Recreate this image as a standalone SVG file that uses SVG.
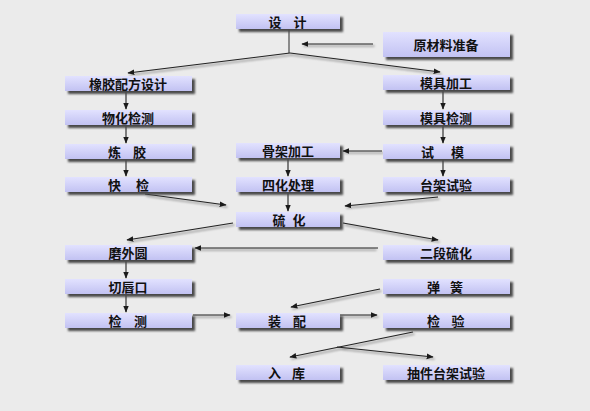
<svg xmlns="http://www.w3.org/2000/svg" width="590" height="411" viewBox="0 0 590 411">
<defs>
<linearGradient id="g" x1="0" y1="0" x2="0" y2="1">
<stop offset="0" stop-color="#e2e2ff"/>
<stop offset="1" stop-color="#c2c2f2"/>
</linearGradient>
<filter id="sh" x="-10%" y="-50%" width="120%" height="200%">
<feGaussianBlur stdDeviation="1.1"/>
</filter>
<filter id="lsh" x="-10%" y="-50%" width="120%" height="200%">
<feGaussianBlur stdDeviation="1"/>
</filter>
<marker id="ah" viewBox="0 0 10 10" refX="9" refY="5" markerWidth="7" markerHeight="7" orient="auto" markerUnits="userSpaceOnUse">
<path d="M0,1 L10,5 L0,9 Z" fill="#1a1a1a"/>
</marker>
</defs>
<style>
.s{fill:#4a4a4a;filter:url(#sh)}
.b{fill:url(#g)}
.t{font-family:"Noto Sans CJK SC","Noto Sans",sans-serif;font-size:13px;font-weight:bold;fill:#111;text-anchor:middle}
.c{stroke:#222;stroke-width:1.1;fill:none;marker-end:url(#ah)}
.cs{stroke:#999;stroke-width:1.5;fill:none;filter:url(#lsh)}
</style>
<rect width="590" height="411" fill="#ebebeb"/>

<g id="connectors-shadow" transform="translate(1.5,2)">
<path class="cs" d="M290,53 L128,73 M290,53 L440,72 M373,44 L302,44 M382,151 L343,151 M438,197 L345,206 M145,194 L226,205 M343,223 L438,240 M375,248 L195,248 M233,223 L127,240 M193,315 L230,315 M380,289 L291,307 M339,315 L377,315 M413,332 L290,357 M337,347 L433,357"/>
</g>

<g id="connectors">
<line x1="289" y1="29" x2="289" y2="53" stroke="#8a8a8a" stroke-width="2"/>
<line class="c" x1="290" y1="53" x2="128" y2="73"/>
<line class="c" x1="290" y1="53" x2="440" y2="72"/>
<line class="c" x1="373" y1="44" x2="302" y2="44"/>
<line class="c" x1="126" y1="91" x2="126" y2="109"/>
<line class="c" x1="126" y1="125" x2="126" y2="143"/>
<line class="c" x1="126" y1="159" x2="126" y2="176"/>
<line class="c" x1="443" y1="90" x2="443" y2="109"/>
<line class="c" x1="443" y1="125" x2="443" y2="143"/>
<line class="c" x1="443" y1="159" x2="443" y2="176"/>
<line class="c" x1="382" y1="151" x2="343" y2="151"/>
<line class="c" x1="288" y1="158" x2="288" y2="176"/>
<line class="c" x1="288" y1="192" x2="288" y2="211"/>
<line class="c" x1="438" y1="197" x2="345" y2="206"/>
<line class="c" x1="145" y1="194" x2="226" y2="205"/>
<line class="c" x1="343" y1="223" x2="438" y2="240"/>
<line class="c" x1="378" y1="248" x2="195" y2="248"/>
<line class="c" x1="233" y1="223" x2="127" y2="240"/>
<line class="c" x1="126" y1="260" x2="126" y2="278"/>
<line class="c" x1="126" y1="294" x2="126" y2="312"/>
<line class="c" x1="193" y1="315" x2="230" y2="315"/>
<line class="c" x1="380" y1="289" x2="291" y2="307"/>
<line class="c" x1="339" y1="315" x2="377" y2="315"/>
<line class="c" x1="413" y1="332" x2="290" y2="357"/>
<line class="c" x1="337" y1="347" x2="433" y2="357"/>
</g>

<g id="n-design"><rect class="s" x="239" y="17" width="104" height="15"/><rect class="b" x="236" y="14" width="104" height="15"/><text class="t" y="26.5"><tspan x="275">设</tspan><tspan x="300">计</tspan></text></g>
<g id="n-material"><rect class="s" x="386" y="35" width="127" height="25"/><rect class="b" x="383" y="32" width="127" height="25"/><text class="t" x="446" y="49.5">原材料准备</text></g>

<g id="n-formula"><rect class="s" x="68" y="79" width="127" height="15"/><rect class="b" x="65" y="76" width="127" height="15"/><text class="t" x="128" y="88.5">橡胶配方设计</text></g>
<g id="n-physchem"><rect class="s" x="68" y="113" width="127" height="15"/><rect class="b" x="65" y="110" width="127" height="15"/><text class="t" x="128" y="122.5">物化检测</text></g>
<g id="n-mixing"><rect class="s" x="68" y="147" width="127" height="15"/><rect class="b" x="65" y="144" width="127" height="15"/><text class="t" y="156.5"><tspan x="114.5">炼</tspan><tspan x="139.5">胶</tspan></text></g>
<g id="n-quick"><rect class="s" x="68" y="180" width="127" height="15"/><rect class="b" x="65" y="177" width="127" height="15"/><text class="t" y="189.5"><tspan x="114.5">快</tspan><tspan x="142.5">检</tspan></text></g>
<g id="n-grind"><rect class="s" x="68" y="248" width="127" height="15"/><rect class="b" x="65" y="245" width="127" height="15"/><text class="t" x="128" y="257.5">磨外圆</text></g>
<g id="n-lipcut"><rect class="s" x="68" y="282" width="127" height="15"/><rect class="b" x="65" y="279" width="127" height="15"/><text class="t" x="128" y="291.5">切唇口</text></g>
<g id="n-inspect"><rect class="s" x="68" y="316" width="127" height="15"/><rect class="b" x="65" y="313" width="127" height="15"/><text class="t" y="325.5"><tspan x="115">检</tspan><tspan x="140.5">测</tspan></text></g>

<g id="n-skeleton"><rect class="s" x="239" y="146" width="104" height="15"/><rect class="b" x="236" y="143" width="104" height="15"/><text class="t" x="288" y="155.5">骨架加工</text></g>
<g id="n-treat"><rect class="s" x="239" y="180" width="104" height="15"/><rect class="b" x="236" y="177" width="104" height="15"/><text class="t" x="288" y="189.5">四化处理</text></g>
<g id="n-vulcan"><rect class="s" x="239" y="215" width="104" height="15"/><rect class="b" x="236" y="212" width="104" height="15"/><text class="t" y="224.5"><tspan x="279">硫</tspan><tspan x="299">化</tspan></text></g>
<g id="n-assembly"><rect class="s" x="239" y="316" width="104" height="15"/><rect class="b" x="236" y="313" width="104" height="15"/><text class="t" y="325.5"><tspan x="274.5">装</tspan><tspan x="299.5">配</tspan></text></g>
<g id="n-storage"><rect class="s" x="239" y="368" width="104" height="15"/><rect class="b" x="236" y="365" width="104" height="15"/><text class="t" y="377.5"><tspan x="274.5">入</tspan><tspan x="298.5">库</tspan></text></g>

<g id="n-mold"><rect class="s" x="386" y="78" width="127" height="15"/><rect class="b" x="383" y="75" width="127" height="15"/><text class="t" x="446" y="87.5">模具加工</text></g>
<g id="n-moldcheck"><rect class="s" x="386" y="113" width="127" height="15"/><rect class="b" x="383" y="110" width="127" height="15"/><text class="t" x="446" y="122.5">模具检测</text></g>
<g id="n-trial"><rect class="s" x="386" y="147" width="127" height="15"/><rect class="b" x="383" y="144" width="127" height="15"/><text class="t" y="156.5"><tspan x="427.5">试</tspan><tspan x="457.5">模</tspan></text></g>
<g id="n-bench"><rect class="s" x="386" y="180" width="127" height="15"/><rect class="b" x="383" y="177" width="127" height="15"/><text class="t" x="446" y="189.5">台架试验</text></g>
<g id="n-second"><rect class="s" x="386" y="248" width="127" height="15"/><rect class="b" x="383" y="245" width="127" height="15"/><text class="t" x="446" y="257.5">二段硫化</text></g>
<g id="n-spring"><rect class="s" x="386" y="282" width="127" height="15"/><rect class="b" x="383" y="279" width="127" height="15"/><text class="t" y="291.5"><tspan x="433.5">弹</tspan><tspan x="456.5">簧</tspan></text></g>
<g id="n-verify"><rect class="s" x="386" y="316" width="127" height="15"/><rect class="b" x="383" y="313" width="127" height="15"/><text class="t" y="325.5"><tspan x="433.5">检</tspan><tspan x="458">验</tspan></text></g>
<g id="n-sample"><rect class="s" x="386" y="368" width="127" height="15"/><rect class="b" x="383" y="365" width="127" height="15"/><text class="t" x="446" y="377.5">抽件台架试验</text></g>
</svg>
